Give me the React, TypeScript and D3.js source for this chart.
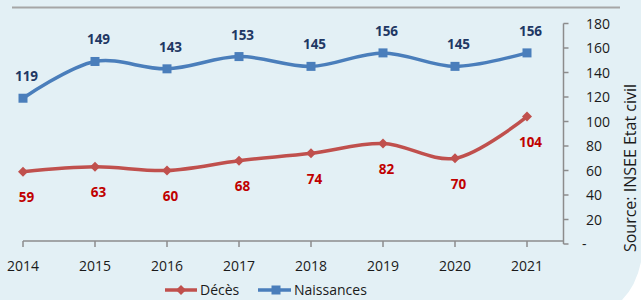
import React from 'react'
import * as d3 from 'd3'

const years = [2014, 2015, 2016, 2017, 2018, 2019, 2020, 2021]
const deces = [59, 63, 60, 68, 74, 82, 70, 104]
const naissances = [119, 149, 143, 153, 145, 156, 145, 156]
const yTicks = [0, 20, 40, 60, 80, 100, 120, 140, 160, 180]
const source = 'Source: INSEE Etat civil'

const W = 641
const H = 300
const font = "'Open Sans', sans-serif"

const App = () => {
  // x: 2014 on the left edge, half a category of room after 2021
  const x = d3.scaleLinear().domain([2014, 2021.5]).range([23, 563])
  const y = d3.scaleLinear().domain([0, 180]).range([244, 23.5])
  const axisY = 241

  const line = d3
    .line<number>()
    .x((_, i) => x(years[i]))
    .y((d) => y(d))
    .curve(d3.curveCatmullRom.alpha(0.5))

  const blue = '#4a7ebb'
  const red = '#c0504d'

  return (
    <svg width={W} height={H} style={{ position: 'absolute', left: 0, top: 0, display: 'block' }} fontFamily={font}>
      <rect width={W} height={H} fill="#e3f0f5" />
      {/* rounded corner of the panel */}
      <path d="M641,262 Q636,286 622,300 L641,300 Z" fill="#fff" />
      <line x1={12} x2={620} y1={7.5} y2={7.5} stroke="#a6a6a6" strokeWidth={2} />

      {/* x axis */}
      <line x1={x(2014)} x2={x(2021.5)} y1={axisY} y2={axisY} stroke="#8c8c8c" strokeWidth={1.5} />
      {years.map((yr) => (
        <g key={yr}>
          <line x1={x(yr)} x2={x(yr)} y1={axisY} y2={axisY + 6} stroke="#8c8c8c" strokeWidth={1.5} />
          <text x={x(yr)} y={271} textAnchor="middle" fontSize={14} fill="#1a1a1a">
            {yr}
          </text>
        </g>
      ))}

      {/* right axis */}
      <line x1={563.5} x2={563.5} y1={y(180)} y2={y(0)} stroke="#8c8c8c" strokeWidth={1.5} />
      {yTicks.map((t) => (
        <g key={t}>
          <line x1={563.5} x2={568.5} y1={y(t)} y2={y(t)} stroke="#8c8c8c" strokeWidth={1.5} />
          <text x={t === 0 ? 582 : 586} y={y(t)} dy="0.36em" fontSize={14} fill="#1a1a1a">
            {t === 0 ? '-' : t}
          </text>
        </g>
      ))}

      <text transform={`translate(636,168) rotate(-90)`} textAnchor="middle" fontSize={16} fill="#1a1a1a">
        {source}
      </text>

      {/* series */}
      <path d={line(naissances) ?? ''} fill="none" stroke={blue} strokeWidth={3.5} />
      <path d={line(deces) ?? ''} fill="none" stroke={red} strokeWidth={3.5} />

      {naissances.map((v, i) => (
        <g key={'n' + i}>
          <rect x={x(years[i]) - 4.5} y={y(v) - 4.5} width={9} height={9} fill={blue} />
          <text x={x(years[i]) + 3.5} y={y(v) - 17} textAnchor="middle" fontSize={13.5} fontWeight="bold" fill="#1f3864">
            {v}
          </text>
        </g>
      ))}
      {deces.map((v, i) => (
        <g key={'d' + i}>
          <path
            d={`M${x(years[i])},${y(v) - 5}l5,5l-5,5l-5,-5z`}
            fill={red}
          />
          <text x={x(years[i]) + 3.5} y={y(v) + 30.5} textAnchor="middle" fontSize={13.5} fontWeight="bold" fill="#c00000">
            {v}
          </text>
        </g>
      ))}

      {/* legend */}
      <line x1={165} x2={197} y1={290} y2={290} stroke={red} strokeWidth={3.5} />
      <path d="M181,285l5,5l-5,5l-5,-5z" fill={red} />
      <text x={200} y={295} fontSize={14} fill="#1a1a1a">
        Décès
      </text>
      <line x1={258} x2={291} y1={290} y2={290} stroke={blue} strokeWidth={3.5} />
      <rect x={271.5} y={285.5} width={9} height={9} fill={blue} />
      <text x={294} y={295} fontSize={14} fill="#1a1a1a">
        Naissances
      </text>
    </svg>
  )
}

export default App
